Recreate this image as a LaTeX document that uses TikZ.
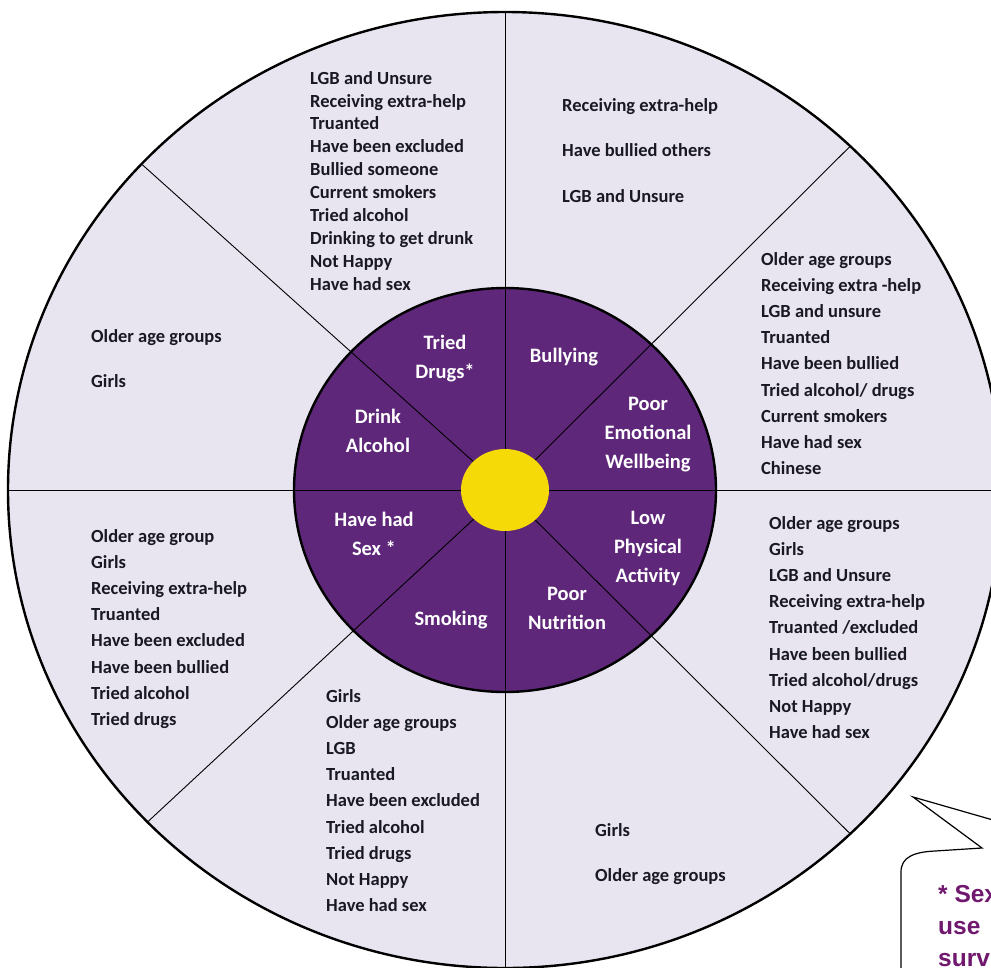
\documentclass[tikz,border=0pt]{standalone}
\usepackage{fontspec}
\setmainfont{Carlito}
\newfontfamily\notefont{Liberation Sans}
\definecolor{wheelbg}{RGB}{233,229,240}
\definecolor{wheelpurple}{RGB}{94,39,121}
\definecolor{hubyellow}{RGB}{246,218,8}
\definecolor{notepurple}{RGB}{112,24,110}
\definecolor{listtext}{RGB}{25,25,35}
\begin{document}
\begin{tikzpicture}[
    x=1pt, y=-1pt,
    spoke/.style={line width=0.9pt},
    hublabel/.style={font=\bfseries\fontsize{20.5}{29}\selectfont, text=white, align=center, inner sep=0pt},
    risklist/.style={font=\bfseries\fontsize{18.5}{26.2}\selectfont, text=listtext, align=left, anchor=north west, inner sep=0pt},
    riskdense/.style={risklist, font=\bfseries\fontsize{18.5}{22.9}\selectfont},
    risksparse/.style={risklist, font=\bfseries\fontsize{18.5}{45.5}\selectfont},
    notetext/.style={font=\notefont\bfseries\fontsize{24.5}{32}\selectfont, text=notepurple, align=left, anchor=north west, inner sep=0pt}
]
  \clip (0,0) rectangle (991,967);
  \coordinate (C) at (505,490);

  % wheel
  \draw[line width=2.4pt, fill=wheelbg] (C) ellipse [x radius=497pt, y radius=478pt];
  \draw[line width=2.4pt, fill=wheelpurple] (C) ellipse [x radius=211pt, y radius=202pt];
  \foreach \a in {0,46,90,137,180,224,270,314}
    \draw[spoke] (C) -- ++(\a:497pt and 478pt);
  \fill[hubyellow] (C) ellipse [x radius=44pt, y radius=41pt];

  % inner ring
  \node[hublabel] (drugs)     at (445,359) {Tried\\Drugs*};
  \node[hublabel] (bully)     at (564,357) {Bullying};
  \node[hublabel] (emotion)   at (648,435) {Poor\\Emotional\\Wellbeing};
  \node[hublabel] (activity)  at (648,548) {Low\\Physical\\Activity};
  \node[hublabel] (nutrition) at (567,608) {Poor\\Nutrition};
  \node[hublabel] (smoke)     at (451,620) {Smoking};
  \node[hublabel] (sex)       at (374,534) {Have had\\Sex *};
  \node[hublabel] (drink)     at (378,431) {Drink\\Alcohol};

  % outer ring
  \node[riskdense] (drugsrisk) at (310,71)
    {LGB and Unsure\\Receiving extra-help\\Truanted\\Have been excluded\\Bullied someone\\Current smokers\\Tried alcohol\\Drinking to get drunk\\Not Happy\\Have had sex};
  \node[risksparse] (bullyrisk) at (562,98)
    {Receiving extra-help\\Have bullied others\\LGB and Unsure};
  \node[risklist] (emotionrisk) at (761,252)
    {Older age groups\\Receiving extra -help\\LGB and unsure\\Truanted\\Have been bullied\\Tried alcohol/ drugs\\Current smokers\\Have had sex\\Chinese};
  \node[risklist] (activityrisk) at (769,516)
    {Older age groups\\Girls\\LGB and Unsure\\Receiving extra-help\\Truanted /excluded\\Have been bullied\\Tried alcohol/drugs\\Not Happy\\Have had sex};
  \node[risksparse] (nutritionrisk) at (595,823)
    {Girls\\Older age groups};
  \node[risklist] (smokerisk) at (326,689)
    {Girls\\Older age groups\\LGB\\Truanted\\Have been excluded\\Tried alcohol\\Tried drugs\\Not Happy\\Have had sex};
  \node[risklist] (sexrisk) at (91,529)
    {Older age group\\Girls\\Receiving extra-help\\Truanted\\Have been excluded\\Have been bullied\\Tried alcohol\\Tried drugs};
  \node[risksparse] (drinkrisk) at (91,329)
    {Older age groups\\Girls};

  % callout
  \draw[line width=1.2pt, fill=white] (901,975) -- (901,872)
    .. controls (901,857) and (914,852) .. (935,851) -- (982,848)
    -- (913,797) -- (1000,822) -- (1000,975) -- cycle;
  \node[notetext] (note) at (938,885) {* Sex\\use\\surv};
\end{tikzpicture}
\end{document}
